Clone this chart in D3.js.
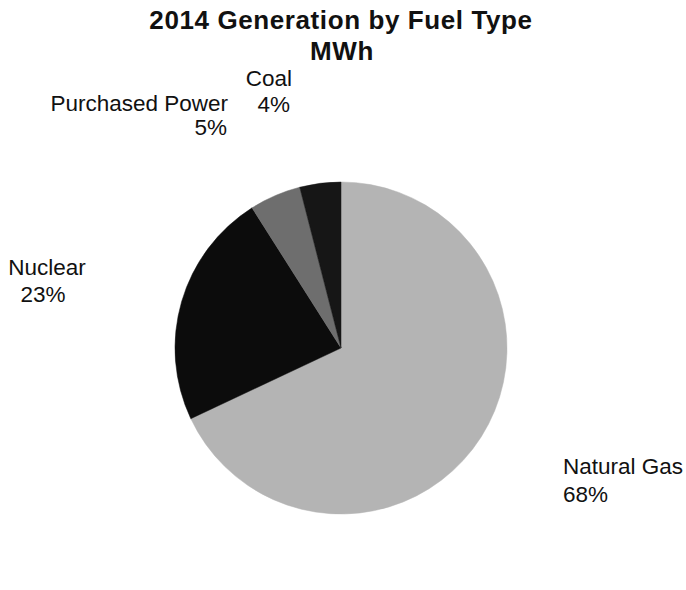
<!DOCTYPE html>
<html>
<head>
<meta charset="utf-8">
<script src="https://cdn.jsdelivr.net/npm/d3@7"></script>
<style>
  html, body { margin: 0; padding: 0; background: #ffffff; }
  svg { display: block; }
  text { font-family: "Liberation Sans", Arial, sans-serif; fill: #111; }
</style>
</head>
<body>
<svg id="chart" width="686" height="590"></svg>
<script>
// ---- data ----
const titleLines = ["2014 Generation by Fuel Type", "MWh"];
const categories = ["Natural Gas", "Nuclear", "Purchased Power", "Coal"];
const shares = [68, 23, 5, 4];
const pctLabels = ["68%", "23%", "5%", "4%"];

// ---- styling / layout (kept separate from data) ----
const colors = ["#b4b4b4", "#0c0c0c", "#6e6e6e", "#161616"];
const W = 686, H = 590;
const cx = 341, cy = 348, R = 166;
const labelLayout = {
  "Natural Gas":     { x: 563, y: 474, anchor: "start" },
  "Nuclear":         { x: 47,  y: 275, anchor: "middle" },
  "Purchased Power": { x: 228, y: 111, anchor: "end" },
  "Coal":            { x: 292, y: 86,  anchor: "end" }
};
const pctLayout = {
  "Natural Gas":     { x: 563, y: 502, anchor: "start" },
  "Nuclear":         { x: 43,  y: 302, anchor: "middle" },
  "Purchased Power": { x: 227, y: 135, anchor: "end" },
  "Coal":            { x: 290, y: 112, anchor: "end" }
};

const svg = d3.select("#chart");

// title
svg.append("text")
  .attr("x", 341).attr("y", 29)
  .attr("text-anchor", "middle")
  .style("font-size", "26px").style("font-weight", "bold")
  .style("letter-spacing", "0.6px")
  .text(titleLines[0]);
svg.append("text")
  .attr("x", 342).attr("y", 60)
  .attr("text-anchor", "middle")
  .style("font-size", "26px").style("font-weight", "bold")
  .style("letter-spacing", "0.6px")
  .text(titleLines[1]);

const data = categories.map((c, i) => ({ name: c, value: shares[i], pct: pctLabels[i], color: colors[i] }));

const pie = d3.pie().value(d => d.value).sort(null);
const arc = d3.arc().innerRadius(0).outerRadius(R);

const g = svg.append("g").attr("transform", `translate(${cx},${cy})`);
g.selectAll("path")
  .data(pie(data))
  .join("path")
  .attr("d", arc)
  .attr("fill", d => d.data.color)
  .attr("stroke", d => d.data.color)
  .attr("stroke-width", 0.5);

// labels
const lbl = svg.append("g");
data.forEach(d => {
  const L = labelLayout[d.name], P = pctLayout[d.name];
  lbl.append("text")
    .attr("x", L.x).attr("y", L.y)
    .attr("text-anchor", L.anchor)
    .style("font-size", "22.5px")
    .text(d.name);
  lbl.append("text")
    .attr("x", P.x).attr("y", P.y)
    .attr("text-anchor", P.anchor)
    .style("font-size", "22.5px")
    .text(d.pct);
});
</script>
</body>
</html>
